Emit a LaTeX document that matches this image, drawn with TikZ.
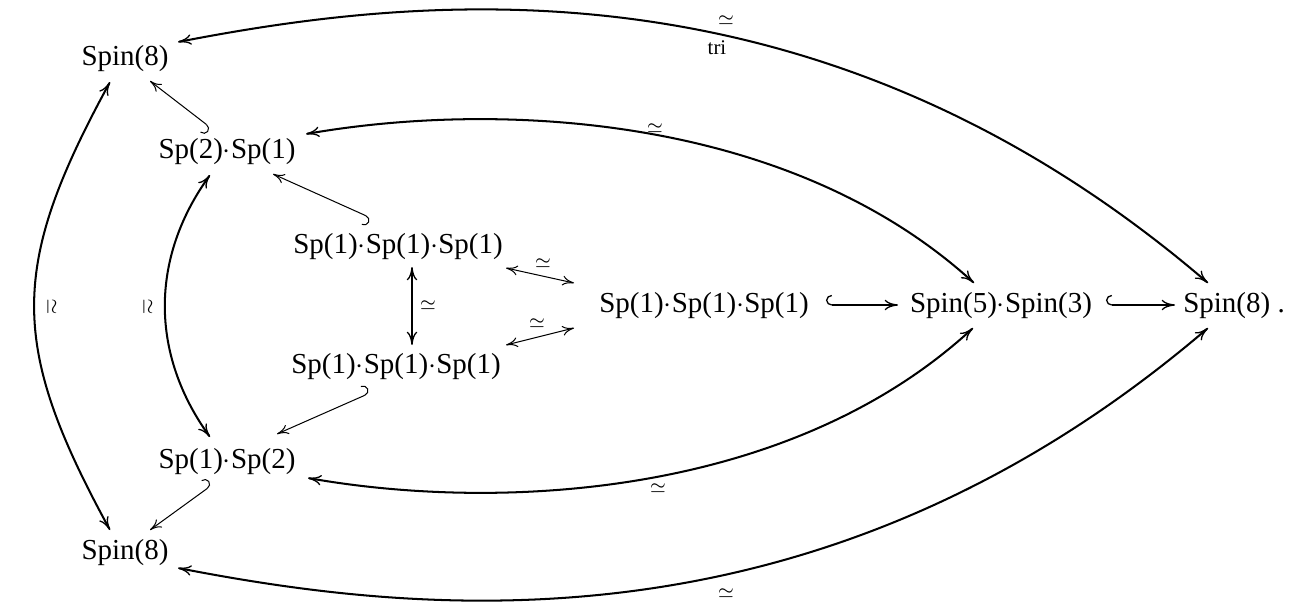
\documentclass[tikz,border=0pt]{standalone}
\usepackage{fontspec}
\setmainfont{Liberation Serif}
\usetikzlibrary{arrows.meta}
\begin{document}
\begin{tikzpicture}[x=0.345pt,y=-0.345pt,
  obj/.style={inner sep=0pt,outer sep=0pt,font=\fontsize{10}{12}\selectfont},
  lab/.style={inner sep=0pt,font=\fontsize{6.5}{7}\selectfont},
  tiplab/.style={inner sep=0pt,font=\fontsize{7.2}{8}\selectfont},
  bigtip/.tip={To[length=4.6pt,width=3.6pt,line width=0.45pt]},
  smalltip/.tip={To[length=4pt,width=3.4pt,line width=0.35pt]},
  thickiso/.style={line width=0.7pt,bigtip-bigtip},
  thiniso/.style={line width=0.35pt,smalltip-smalltip},
  vertiso/.style={line width=1pt,bigtip-bigtip},
  hookthin/.style={line width=0.35pt,{Hooks[right,length=2pt,width=7pt]}-smalltip},
  hookthinb/.style={line width=0.35pt,{Hooks[left,length=2pt,width=7pt]}-smalltip},
  hookthick/.style={line width=0.75pt,{Hooks[right,length=2pt,width=7pt,line width=0.45pt]}-bigtip},
]
\useasboundingbox (0,0) rectangle (1299,606);
% nodes
\node[obj] (tl) at (125,59) {Spin(8)};
\node[obj] (a)  at (227,152) {Sp(2)$\cdot$Sp(1)};
\node[obj] (b)  at (398,247) {Sp(1)$\cdot$Sp(1)$\cdot$Sp(1)};
\node[obj] (c)  at (396,367) {Sp(1)$\cdot$Sp(1)$\cdot$Sp(1)};
\node[obj] (d)  at (227,462) {Sp(1)$\cdot$Sp(2)};
\node[obj] (bl) at (125,553) {Spin(8)};
\node[obj] (m)  at (704,306) {Sp(1)$\cdot$Sp(1)$\cdot$Sp(1)};
\node[obj] (s)  at (1001,306) {Spin(5)$\cdot$Spin(3)};
\node[obj] (r)  at (1234,306) {Spin(8) .};
% big isomorphism curves
\draw[thickiso] ([shift={(53,-17)}]tl.center) .. controls (420,-5) and (820,-50) .. ([shift={(-26,-23)}]r.center);
\draw[thickiso] ([shift={(53,15)}]bl.center) .. controls (420,615) and (820,660) .. ([shift={(-26,22)}]r.center);
\draw[thickiso] ([shift={(79,-18)}]a.center) .. controls (500,100) and (790,115) .. ([shift={(-27,-23)}]s.center);
\draw[thickiso] ([shift={(81,16)}]d.center) .. controls (500,512) and (790,497) .. ([shift={(-28,22)}]s.center);
\draw[thickiso] ([shift={(-15,23)}]tl.center) .. controls (9,267) and (9,345) .. ([shift={(-15,-23)}]bl.center);
\draw[thickiso] ([shift={(-17,23)}]a.center) .. controls (150,258) and (150,354) .. ([shift={(-17,-25)}]d.center);
\draw[vertiso] ([shift={(14,20)}]b.center) -- ([shift={(16,-22)}]c.center);
\draw[thiniso] ([shift={(108,21)}]b.center) -- ([shift={(-130,-23)}]m.center);
\draw[thiniso] ([shift={(110,-22)}]c.center) -- ([shift={(-130,22)}]m.center);
% inclusions
\draw[hookthin] ([shift={(-16,-24)}]a.center) -- ([shift={(25,22)}]tl.center);
\draw[hookthin] ([shift={(-27,-29)}]b.center) -- ([shift={(46,22)}]a.center);
\draw[hookthinb] ([shift={(-26,26)}]c.center) -- ([shift={(50,-28)}]d.center);
\draw[hookthinb] ([shift={(-15,23)}]d.center) -- ([shift={(25,-23)}]bl.center);
\draw[hookthick] ([shift={(122,-1)}]m.center) -- ([shift={(-103,-1)}]s.center);
\draw[hookthick] ([shift={(105,-1)}]s.center) -- ([shift={(-59,-1)}]r.center);
% labels
\node[lab] (l1) at (726,20) {$\simeq$};
\node[tiplab] (l2) at (717,48) {tri};
\node[lab] (l3) at (655,128) {$\simeq$};
\node[lab] (l4) at (658,488) {$\simeq$};
\node[lab] (l5) at (726,593) {$\simeq$};
\node[lab,rotate=-90] (l6) at (52,307) {$\simeq$};
\node[lab,rotate=-90] (l7) at (148,307) {$\simeq$};
\node[lab] (l8) at (428,305) {$\simeq$};
\node[lab] (l9) at (543,263) {$\simeq$};
\node[lab] (l10) at (537,323) {$\simeq$};
\end{tikzpicture}
\end{document}
